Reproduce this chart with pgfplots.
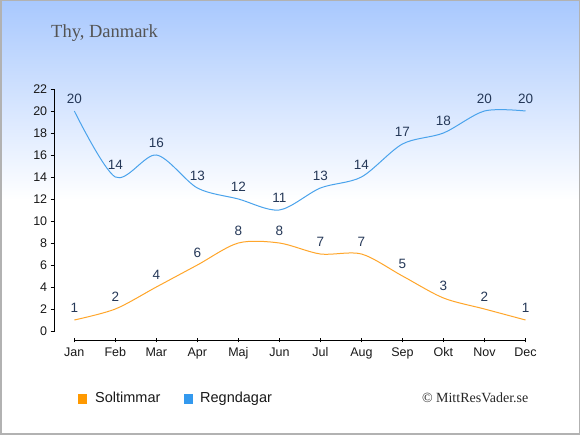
\documentclass[border=0pt]{standalone}
\usepackage{fontspec}
\setmainfont{Liberation Sans}
\newfontfamily\serifft{Liberation Serif}
\usepackage{pgfplots}
\pgfplotsset{compat=1.18}
\definecolor{sol}{HTML}{FFA62B}
\definecolor{rain}{HTML}{4AA3EC}
\definecolor{solsq}{HTML}{FF9900}
\definecolor{rainsq}{HTML}{3399EE}
\definecolor{lbl}{HTML}{253858}
\definecolor{bgtop}{HTML}{A8C8FE}
\begin{document}
\begin{tikzpicture}
\useasboundingbox (0pt,0pt) rectangle (580pt,435pt);
\fill[white] (0pt,0pt) rectangle (580pt,435pt);
\shade[top color=bgtop, bottom color=white] (0pt,235pt) rectangle (580pt,435pt);
\draw[color=black!30, line width=1.5pt] (0.75pt,0.75pt) rectangle (579.25pt,434.25pt);
\node[anchor=base west, font=\serifft\fontsize{18.5}{20}\selectfont, text=black!67, inner sep=0pt] at (51pt,397pt) {Thy, Danmark};
\begin{axis}[
  at={(54.7pt,94.7pt)}, anchor=south west,
  scale only axis, width=470.8pt, height=251.3pt,
  xmin=-0.478, xmax=11, ymin=-0.845, ymax=22,
  axis line style={draw=none},
  clip=false,
  xtick={0,...,11},
  xticklabels={Jan,Feb,Mar,Apr,Maj,Jun,Jul,Aug,Sep,Okt,Nov,Dec},
  ytick={0,2,...,22},
  xtick pos=lower, ytick pos=left,
  tick align=outside,
  major tick length=4pt,
  tick style={black, line width=0.8pt},
  major x tick style={yshift=2pt},
  /pgf/number format/assume math mode=true,
  xticklabel style={font=\fontsize{12.5}{14}\selectfont, text=black!90},
  yticklabel style={font=\fontsize{12.5}{14}\selectfont, text=black!90},
  nodes near coords,
  every node near coord/.append style={font=\fontsize{13.5}{15}\selectfont, text=lbl, anchor=center, yshift=12.5pt},
]
\addplot[sol, line width=1pt, smooth, mark=none] coordinates {
(0,1) (1,2) (2,4) (3,6) (4,8) (5,8) (6,7) (7,7) (8,5) (9,3) (10,2) (11,1)};
\addplot[rain, line width=1pt, smooth, mark=none] coordinates {
(0,20) (1,14) (2,16) (3,13) (4,12) (5,11) (6,13) (7,14) (8,17) (9,18) (10,20) (11,20)};
\draw[black, line width=0.8pt] (axis cs:-0.478,0) -- (axis cs:-0.478,22);
\draw[black, line width=0.8pt] (axis cs:0,-0.845) -- (axis cs:11,-0.845);
\end{axis}
\fill[solsq] (78pt,31pt) rectangle (87pt,41pt);
\node[anchor=base west, font=\fontsize{14.5}{16}\selectfont, text=black!90, inner sep=0pt] at (95pt,32.3pt) {Soltimmar};
\fill[rainsq] (183.5pt,31pt) rectangle (193pt,41pt);
\node[anchor=base west, font=\fontsize{14.5}{16}\selectfont, text=black!90, inner sep=0pt] at (200pt,32.3pt) {Regndagar};
\node[anchor=base east, font=\serifft\fontsize{14}{16}\selectfont, text=black!85, inner sep=0pt] at (528.5pt,32.3pt) {\textcopyright\ MittResVader.se};
\end{tikzpicture}
\end{document}
